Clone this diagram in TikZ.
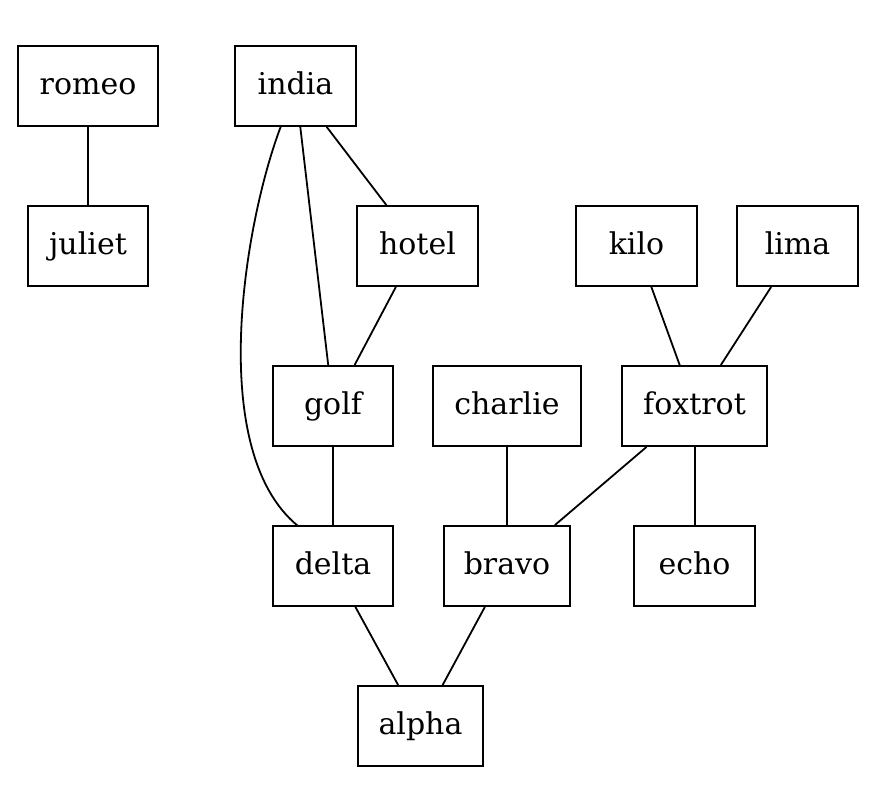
\documentclass[tikz,border=0pt]{standalone}
\usepackage{fontspec}
\setmainfont{DejaVu Serif}
\begin{document}
\begin{tikzpicture}[x=1pt,y=-1pt,
  box/.style={draw,line width=1.8pt,rectangle,inner sep=0pt,minimum height=80pt,text height=22pt,text depth=5pt,font=\fontsize{30}{36}\selectfont},
  edge/.style={line width=1.8pt}]
\useasboundingbox (0,0) rectangle (890,799);
\node[box,minimum width=140pt] (romeo) at (88,86) {romeo};
\node[box,minimum width=121pt] (india) at (295.5,86) {india};
\node[box,minimum width=120pt] (juliet) at (88,246) {juliet};
\node[box,minimum width=121pt] (hotel) at (417.5,246) {hotel};
\node[box,minimum width=121pt] (kilo) at (636.5,246) {kilo};
\node[box,minimum width=121pt] (lima) at (797.5,246) {lima};
\node[box,minimum width=120pt] (golf) at (333,406) {golf};
\node[box,minimum width=148pt] (charlie) at (507,406) {charlie};
\node[box,minimum width=145pt] (foxtrot) at (694.5,406) {foxtrot};
\node[box,minimum width=120pt] (delta) at (333,566) {delta};
\node[box,minimum width=126pt] (bravo) at (507,566) {bravo};
\node[box,minimum width=121pt] (echo) at (694.5,566) {echo};
\node[box,minimum width=125pt] (alpha) at (420.5,726) {alpha};
\coordinate (ib) at (281,126);
\coordinate (dt) at (298,526);
\draw[edge] (romeo) -- (juliet);
\draw[edge] (india) -- (hotel);
\draw[edge] (india) -- (golf);
\draw[edge] (ib) .. controls (245,220) and (205,450) .. (dt);
\draw[edge] (hotel) -- (golf);
\draw[edge] (kilo) -- (foxtrot);
\draw[edge] (lima) -- (foxtrot);
\draw[edge] (golf) -- (delta);
\draw[edge] (charlie) -- (bravo);
\draw[edge] (foxtrot) -- (bravo);
\draw[edge] ([xshift=0.5pt]foxtrot.south) -- ([xshift=0.5pt]echo.north);
\draw[edge] (delta) -- (alpha);
\draw[edge] (bravo) -- (alpha);
\end{tikzpicture}
\end{document}
